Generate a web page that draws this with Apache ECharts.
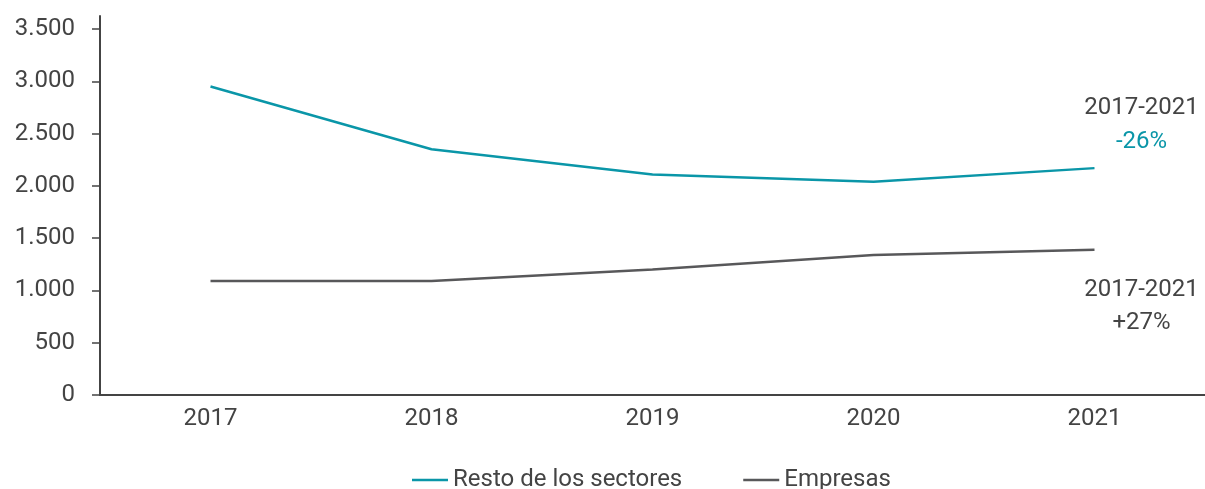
<!DOCTYPE html>
<html><head><meta charset="utf-8">
<script src="https://cdn.jsdelivr.net/npm/echarts@6/dist/echarts.min.js"></script>
<style>html,body{margin:0;padding:0;background:#fff}#c{width:1205px;height:489px}</style>
</head><body><div id="c"></div>
<script>
const categories = ['2017', '2018', '2019', '2020', '2021'];
const resto = [2950, 2350, 2110, 2040, 2170];
const empresas = [1090, 1090, 1200, 1340, 1390];
const yTicks = [0, 500, 1000, 1500, 2000, 2500, 3000, 3500];
const seriesNames = ['Resto de los sectores', 'Empresas'];
const annoPeriod = '2017-2021';
const restoChange = '-26%';
const empresasChange = '+27%';

const TEAL = '#0a96a8';
const GRAY = '#58585a';
const TXT = '#444444';
const FONT = 'Roboto';
const FS = 24;

const chart = echarts.init(document.getElementById('c'));
chart.setOption({
  animation: false,
  textStyle: { fontFamily: FONT },
  grid: { left: 100, top: 16, width: 1107, bottom: 94 },
  xAxis: {
    type: 'category', data: categories, boundaryGap: true,
    axisLine: { lineStyle: { color: TXT, width: 2 } },
    axisTick: { show: false },
    axisLabel: { color: TXT, fontSize: FS, fontFamily: FONT, margin: 12 }
  },
  yAxis: {
    type: 'value', min: 0, max: 3625,
    splitLine: { show: false },
    axisLine: { show: true, lineStyle: { color: TXT, width: 2 } },
    axisTick: { show: true, length: 8, lineStyle: { color: TXT, width: 1.5 }, customValues: yTicks },
    axisLabel: {
      color: TXT, fontSize: FS, fontFamily: FONT, margin: 25, customValues: yTicks,
      formatter: v => v.toLocaleString('de-DE')
    }
  },
  legend: {
    top: 463, left: 407,
    icon: 'rect', itemWidth: 36, itemHeight: 2.5, itemGap: 61,
    textStyle: { color: TXT, fontSize: FS, fontFamily: FONT, padding: [0, 0, 0, 0] },
    data: seriesNames
  },
  series: [
    {
      name: seriesNames[0], type: 'line', data: resto, symbol: 'none',
      lineStyle: { color: TEAL, width: 2.5 }, itemStyle: { color: TEAL },
      markPoint: {
        symbol: 'circle', symbolSize: 0,
        data: [{ coord: [categories.length - 1, resto[resto.length - 1]] }],
        label: {
          show: true, position: 'inside', offset: [47, -43],
          formatter: () => '{a|' + annoPeriod + '}\n{b|' + restoChange + '}',
          rich: {
            a: { color: TXT, fontSize: FS, fontFamily: FONT, lineHeight: 34, align: 'center' },
            b: { color: TEAL, fontSize: FS, fontFamily: FONT, lineHeight: 34, align: 'center' }
          }
        }
      }
    },
    {
      name: seriesNames[1], type: 'line', data: empresas, symbol: 'none',
      lineStyle: { color: GRAY, width: 2.5 }, itemStyle: { color: GRAY },
      markPoint: {
        symbol: 'circle', symbolSize: 0,
        data: [{ coord: [categories.length - 1, empresas[empresas.length - 1]] }],
        label: {
          show: true, position: 'inside', offset: [47, 57],
          formatter: () => '{a|' + annoPeriod + '}\n{a|' + empresasChange + '}',
          rich: {
            a: { color: TXT, fontSize: FS, fontFamily: FONT, lineHeight: 33, align: 'center' }
          }
        }
      }
    }
  ]
});
</script>
</body></html>
